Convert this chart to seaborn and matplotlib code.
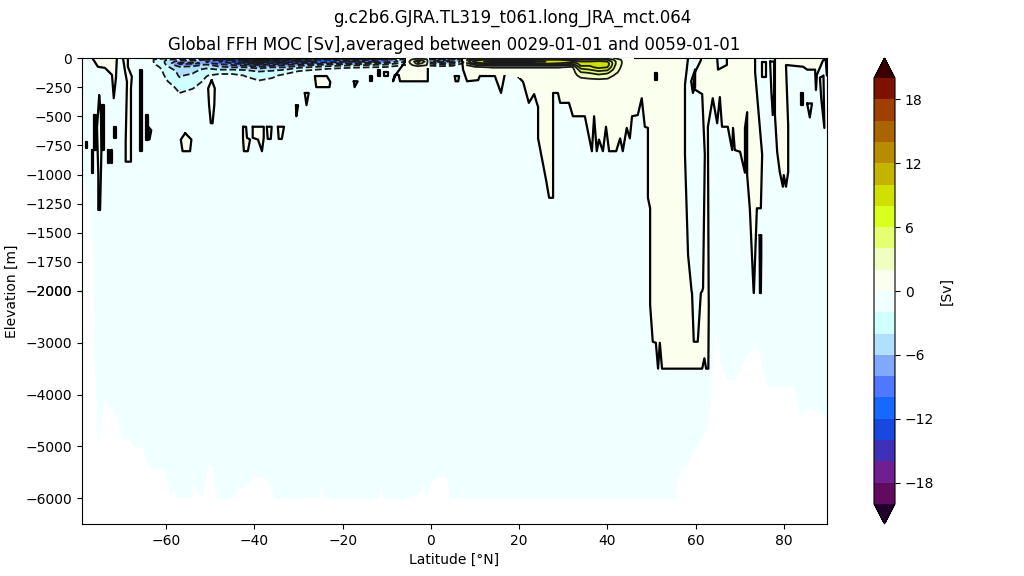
import matplotlib
matplotlib.use('Agg')
import matplotlib.pyplot as plt
from matplotlib.colors import ListedColormap
import numpy as np
import seaborn as sns

# colour bands of the overturning streamfunction, low to high
band_colors = ['#600a60', '#701f90', '#4030b8', '#1848e0', '#1668ff', '#5078ff', '#80a8ff', '#b0e0ff',
               '#d0ffff', '#f0ffff', '#fbffee', '#f0ffc0', '#e6ff70', '#d8ff20', '#d0e000', '#c4b400',
               '#b88c00', '#aa6400', '#a04000', '#7d1200']
under_color = '#20002a'
over_color = '#3a0000'
levels = list(range(-20, 21, 2))
line_levels = [v for v in levels if v != 0]
cbar_ticks = [-18, -12, -6, 0, 6, 12, 18]
POS_FILL = '#fbffee'
NEG_FILL = '#f0ffff'

title_run = 'g.c2b6.GJRA.TL319_t061.long_JRA_mct.064'
title_main = 'Global FFH MOC [Sv],averaged between 0029-01-01 and 0059-01-01'

# ocean floor
floor_lat = [-79.1, -78.0, -76.6, -76.3, -75.5, -74.1, -71.4, -69.8, -69.3, -66.8, -65.5, -63.8, -61.9, -60.1,
             -59.2, -58.4, -57.6, -54.6, -54.0, -51.9, -50.6, -49.4, -48.8, -44.9, -43.8, -41.5, -40.2, -37.8,
             -36.3, -35.6, -25.6, -24.9, -24.3, -14.5, -11.8, -11.5, -10.9, -4.8, -2.7, -1.8, -1.1, 0.2, 2.7,
             3.5, 4.3, 55.1, 55.7, 57.1, 57.8, 59.4, 62.1, 63.3, 64.4, 65.5, 67.1, 68.9, 71.2, 73.7, 76.2,
             82.1, 83.7, 85.3, 89.8]
floor_depth = [-1000, -1176, -1322, -3330, -5000, -4060, -4420, -4920, -4800, -5020, -5000, -5420, -5420, -5500,
               -6000, -5790, -6000, -6000, -5710, -6000, -5365, -5400, -6000, -6000, -5830, -5730, -5560, -5600,
               -5730, -6000, -6000, -5730, -6000, -6000, -6000, -5790, -6000, -6000, -5900, -5670, -6000, -5650,
               -5560, -5600, -6000, -6000, -5650, -5360, -5420, -5100, -4730, -4250, -2710, -3325, -3710, -3710,
               -3270, -3000, -3850, -3830, -4420, -4230, -4420]

# zero contour of the big positive cell
main_cell = [(7.0, 0), (7.3, -100), (8.2, -200), (10.7, -190), (11.1, -155), (14.5, -155), (15.9, -300), (16.8, -130),
             (19.0, -130), (20.9, -205), (22.2, -385), (23.4, -310), (24.3, -420), (24.3, -690), (26.1, -1045),
             (26.8, -1200), (27.7, -1200), (27.7, -300), (28.8, -300), (29.3, -385), (31.3, -385), (32.2, -500),
             (34.9, -500), (36.5, -800), (37.0, -500), (37.6, -800), (38.1, -700), (39.0, -800), (39.7, -590),
             (40.4, -800), (42.0, -800), (42.9, -690), (43.5, -800), (44.4, -600), (45.1, -690), (45.6, -500),
             (46.9, -490), (47.8, -345), (48.5, -590), (49.2, -600), (49.2, -1200), (49.7, -1290), (49.7, -2270),
             (50.3, -2980), (51.0, -3000), (51.5, -3500), (51.9, -3000), (52.4, -3500), (61.5, -3500), (62.0, -3300),
             (62.4, -3500), (62.9, -3500), (63.0, -2270), (62.8, -590), (63.9, -345), (64.9, -560), (65.5, -335),
             (66.0, -590), (67.3, -590), (68.3, -790), (68.5, -600), (68.9, -790), (70.1, -805), (71.2, -985),
             (71.2, -600), (71.7, -465), (71.7, -1005), (72.3, -1290), (73.2, -2040), (73.9, -1290), (74.8, -1290),
             (75.1, -830), (73.5, -120), (73.5, 0)]
channel = [(58.3, 0), (57.6, -230), (57.6, -830), (58.3, -1690), (59.2, -2040), (59.6, -2980), (60.5, -2980),
           (61.2, -2040), (61.7, -1975), (62.1, -830), (61.5, -310), (59.4, -260), (59.9, -120), (61.2, -20), (61.2, 0)]
notch = [(64.9, 0), (65.1, -100), (67.1, -60), (67.1, 0)]
arctic_cell = [(78.0, 0), (78.0, -490), (78.5, -805), (79.1, -980), (79.8, -1105), (80.0, -1005), (80.5, -1105),
               (81.0, -980), (81.0, -580), (80.5, -60), (84.4, -75), (85.3, -100), (87.1, -100), (87.3, -275),
               (87.5, -145), (88.9, -20), (89.6, -10), (89.8, 0)]
equator_cell = [(-5.2, 0), (-8.0, -145), (-8.6, -200), (-8.2, -145), (-7.3, -145), (-7.0, -200), (-0.7, -200), (-0.7, 0)]

# small closed positive patches
patches = [
    [(-76.6, 0), (-76.6, -10), (-75.5, -75), (-73.9, -85), (-72.3, -145), (-71.9, -345), (-71.4, -170), (-71.2, 0)],
    [(-69.8, 0), (-69.4, -100), (-68.9, -205), (-69.2, -720), (-69.2, -890), (-68.0, -890), (-68.0, -260),
     (-67.8, -160), (-68.7, -75), (-68.7, 0)],
    [(-65.9, -100), (-65.6, -100), (-65.6, -800), (-65.9, -800)],
    [(-64.5, -490), (-64.1, -490), (-64.1, -700), (-64.5, -700)],
    [(-64.1, -590), (-63.4, -620), (-63.8, -700)],
    [(-75.2, -320), (-74.8, -490), (-74.7, -800), (-75.0, -1305), (-75.4, -1305), (-75.4, -1000), (-75.7, -600)],
    [(-76.3, -490), (-75.9, -490), (-75.9, -790), (-76.3, -790)],
    [(-74.5, -405), (-74.1, -405), (-74.1, -790), (-74.5, -790)],
    [(-73.3, -790), (-72.9, -790), (-72.9, -900), (-73.3, -900)],
    [(-72.5, -790), (-72.2, -790), (-72.2, -900), (-72.5, -900)],
    [(-71.8, -590), (-71.5, -590), (-71.5, -685), (-71.8, -685)],
    [(-78.2, -720), (-78.0, -720), (-78.0, -770), (-78.2, -770)],
    [(-76.8, -790), (-76.5, -790), (-76.5, -985), (-76.8, -985)],
    [(-49.7, -190), (-49.0, -260), (-49.1, -400), (-49.5, -560), (-49.9, -560), (-50.3, -400), (-50.5, -260)],
    [(-55.7, -645), (-54.3, -700), (-54.6, -800), (-56.3, -800), (-56.7, -700)],
    [(-42.6, -590), (-41.9, -590), (-41.7, -685), (-41.0, -700), (-41.5, -800), (-42.4, -800), (-42.6, -685)],
    [(-40.4, -590), (-37.9, -590), (-37.9, -685), (-38.3, -800), (-39.2, -700), (-40.4, -685)],
    [(-37.2, -590), (-36.1, -590), (-36.3, -695), (-37.0, -695)],
    [(-34.7, -590), (-33.3, -590), (-33.8, -695), (-34.5, -695)],
    [(-30.6, -405), (-30.1, -405), (-30.5, -500)],
    [(-28.6, -300), (-27.7, -300), (-28.2, -405)],
    [(-26.3, -155), (-23.6, -155), (-22.8, -205), (-23.0, -250), (-26.0, -250)],
    [(-17.5, -200), (-16.6, -200), (-17.3, -250)],
    [(-13.7, -155), (-13.4, -155), (-13.4, -200), (-13.7, -200)],
    [(-12.0, -100), (-11.5, -100), (-11.5, -155), (-12.0, -155)],
    [(-10.7, -120), (-9.8, -120), (-9.8, -155), (-10.7, -155)],
    [(5.4, -155), (6.4, -155), (6.2, -200), (5.6, -200)],
    [(50.8, -130), (51.2, -130), (51.2, -190), (50.8, -190)],
    [(59.9, -100), (59.0, -200), (59.4, -300), (59.9, -250)],
    [(75.1, -35), (75.9, -35), (75.9, -165), (75.1, -165)],
    [(76.9, -30), (77.8, -30), (77.8, -300), (77.5, -490), (77.2, -300)],
    [(83.8, -300), (84.4, -300), (84.4, -400), (83.8, -400)],
    [(85.3, -390), (86.4, -390), (85.9, -510)],
    [(88.2, -170), (89.0, -150), (89.2, -600), (88.5, -350)],
    [(89.5, -10), (89.8, -10), (89.8, -150)],
    [(74.5, -1520), (74.9, -1520), (74.9, -1700), (74.8, -2040), (74.6, -2040)],
]

# southern wind driven cell, one row per latitude
neg_depth = [0, -15, -30, -45, -60, -80, -100, -125, -150, -200, -250, -300]
neg_lat = [-64, -62, -60, -57, -54, -51, -48, -45, -42, -39, -36, -33, -30, -26, -22, -18, -14, -10, -6, -2, 2, 5, 7, 8]
neg_psi = [
    [-1, -1, -1, -1, -1, -1, -1, -1, -1, -1, -1, -1],
    [-1, -2.8, -2.8, -2.6, -2.2, -1.5, -1, -1, -1, -1, -1, -1],
    [-1, -4, -4.3, -4.3, -4, -3.5, -3, -2.6, -2.3, -1.8, -1, -1],
    [-1, -5, -7, -8.5, -7.5, -5.5, -4.8, -4.4, -4.2, -3.5, -2.6, -2],
    [-1, -5, -7, -8.5, -7, -5.3, -4.6, -4.2, -3.6, -2.8, -2.2, -1.5],
    [-1, -6, -8, -7.5, -5.5, -4.5, -3.5, -2.5, -2.1, -1.7, -1, -1],
    [-1, -8, -10, -9, -7, -5.5, -4, -2.5, -1.5, -1, -1, -1],
    [-1, -10, -12, -10, -8, -6, -4, -2.5, -1.5, -1, -1, -1],
    [-1, -12, -15, -12, -9, -6, -4.2, -2.8, -2.1, -1.5, -1, -1],
    [-1, -14, -19, -14, -10, -7, -5, -3.5, -2.6, -1.9, -1, -1],
    [-1, -12, -14, -12, -9, -6, -4.5, -3.2, -2.4, -1.5, -1, -1],
    [-1, -12, -14, -11, -8, -6, -4, -2.5, -1.5, -1, -1, -1],
    [-1, -10, -12, -10, -7, -4.5, -2.5, -1.5, -1, -1, -1, -1],
    [-1, -11, -12, -9, -6, -3.5, -2, -1, -1, -1, -1, -1],
    [-1, -10, -11, -8, -5, -2.5, -1.5, -1, -1, -1, -1, -1],
    [-1, -9, -10, -8, -4.5, -2.2, -1.2, -1, -1, -1, -1, -1],
    [-1, -10, -11, -7, -4, -2, -1, -1, -1, -1, -1, -1],
    [-1, -8, -9, -6, -3.5, -1.8, -1, -1, -1, -1, -1, -1],
    [-1, -4, -4, -3, -2, -1, -1, -1, -1, -1, -1, -1],
    [-1, -6, -6, -4, -2.2, -1, -1, -1, -1, -1, -1, -1],
    [-1, -8, -9, -6, -3, -1, -1, -1, -1, -1, -1, -1],
    [-1, -7, -8, -5, -2.5, -1, -1, -1, -1, -1, -1, -1],
    [-1, -3, -3, -2.2, -1, -1, -1, -1, -1, -1, -1, -1],
    [-1, -1, -1, -1, -1, -1, -1, -1, -1, -1, -1, -1],
]

# northern subtropical cell, one row per latitude
pos_depth = [0, -15, -30, -45, -60, -80, -100, -125, -150, -175, -200]
pos_lat = [8, 10, 14, 18, 22, 26, 29, 32, 34, 36, 38, 40, 42, 44, 46]
pos_psi = [
    [1, 3, 5, 3.5, 2, 1, 1, np.nan, np.nan, np.nan, np.nan],
    [1, 7, 9, 7, 4, 1.5, 1, np.nan, np.nan, np.nan, np.nan],
    [1, 9, 11, 9, 5, 2.2, 1, 1, np.nan, np.nan, np.nan],
    [1, 9, 11, 9, 5, 2.2, 1, 1, 1, np.nan, np.nan],
    [1, 9, 11, 9, 5, 2.2, 1, 1, 1, 1, 1],
    [1, 8, 10, 9, 5, 2.2, 1, 1, 1, 1, 1],
    [1, 8, 9, 8, 5, 2.2, 1, 1, 1, 1, 1],
    [1, 7, 9, 7, 4, 1.5, 1, 1, 1, 1, 1],
    [3, 6, 8, 8.7, 8.7, 7, 5.3, 3.8, 2.7, 1.8, 1.1],
    [3, 6, 8, 8.3, 8.3, 7.5, 6, 4.2, 3, 2.1, 1.2],
    [3, 6, 8.5, 9.7, 9.7, 8.5, 7, 5, 3.5, 2.3, 1.2],
    [3, 6, 8, 9, 9, 8, 6.5, 4.5, 3, 2.1, 1.2],
    [1.5, 3.2, 3.8, 3.8, 3.5, 3, 2.6, 2.2, 1.6, 1.1, 1],
    [1, 1, 1, 1, 1, 1, 1, 1, 1, 1, 1],
    [1, 1, 1, 1, 1, 1, 1, 1, 1, 1, 1],
]

# small cell at the equator
eq_depth = [0, -15, -30, -45, -60, -80]
eq_lat = [-5.5, -4, -3, -2, -1, -0.5]
eq_psi = [
    [1, 1, 1, 1, 1, 1],
    [1, 2.5, 3.5, 3, 2.2, 1],
    [1, 3.5, 6.5, 5, 3, 1],
    [1, 3, 5.5, 4, 2.5, 1],
    [1, 2.5, 3, 2.5, 2.1, 1],
    [1, 1, 1, 1, 1, 1],
]

sns.set_theme(style='ticks', rc={
    'axes.edgecolor': 'black', 'axes.labelcolor': 'black', 'text.color': 'black',
    'xtick.color': 'black', 'ytick.color': 'black', 'axes.linewidth': 0.8,
    'xtick.major.size': 3.5, 'ytick.major.size': 3.5, 'xtick.major.width': 0.8, 'ytick.major.width': 0.8,
    'xtick.labelsize': 10, 'ytick.labelsize': 10, 'axes.labelsize': 10,
})
plt.rcParams['font.family'] = ['DejaVu Sans']

cmap = ListedColormap(sns.color_palette(band_colors, n_colors=len(band_colors)))
cmap.set_under(under_color)
cmap.set_over(over_color)

W, H = 1024, 576
LW = 1.6
fig = plt.figure(figsize=(W / 100, H / 100), dpi=100)
ax_top = fig.add_axes([82 / W, (H - 291) / H, 745 / W, 233 / H])
ax_low = fig.add_axes([82 / W, (H - 524) / H, 745 / W, 233 / H])


def outline(ax, shape, fill):
    lat = [p[0] for p in shape]
    dep = [p[1] for p in shape]
    ax.fill(lat, dep, color=fill, lw=0, zorder=2)
    # shapes cut by the surface stay open there
    if dep[0] != 0 or dep[-1] != 0:
        lat = lat + [lat[0]]
        dep = dep + [dep[0]]
    sns.lineplot(x=lat, y=dep, sort=False, estimator=None, errorbar=None, color='black', lw=LW, ax=ax, zorder=2.5)


for ax in (ax_top, ax_low):
    ax.fill_between(floor_lat, floor_depth, 0, color=NEG_FILL, lw=0, zorder=1)
    outline(ax, main_cell, POS_FILL)
    outline(ax, channel, NEG_FILL)
    outline(ax, notch, NEG_FILL)
    outline(ax, arctic_cell, POS_FILL)
    outline(ax, equator_cell, POS_FILL)
    for shape in patches:
        outline(ax, shape, POS_FILL)

cf = None
for lat, dep, psi, z in ((neg_lat, neg_depth, neg_psi, 1.5), (pos_lat, pos_depth, pos_psi, 3), (eq_lat, eq_depth, eq_psi, 3)):
    grid = np.array(psi, dtype=float).T
    c = ax_top.contourf(lat, dep, grid, levels=levels, cmap=cmap, extend='both', zorder=z)
    ax_top.contour(lat, dep, grid, levels=line_levels, colors='k', linewidths=1.3, zorder=z + 0.5)
    if cf is None:
        cf = c

ax_top.set_xlim(-79.1, 89.8)
ax_low.set_xlim(-79.1, 89.8)
ax_top.set_ylim(-2000, 0)
ax_low.set_ylim(-6500, -2000)
ax_top.set_yticks(list(range(-2000, 1, 250)))
ax_low.set_yticks(list(range(-6000, -1999, 1000)))
ax_low.set_xticks(list(range(-60, 81, 20)))
ax_top.set_xticks([])
ax_top.spines['bottom'].set_visible(False)
ax_low.spines['top'].set_visible(False)
ax_low.set_xlabel('Latitude [°N]')
ax_top.set_title(title_main, fontsize=12, pad=6)

fig.text(512 / W, 1 - 18 / H, title_run, ha='center', va='center', fontsize=12)
fig.text(12 / W, 1 - 291 / H, 'Elevation [m]', rotation=90, ha='center', va='center', fontsize=10)

# colorbar axes holds the end triangles as well
cax = fig.add_axes([874 / W, (H - 524) / H, 21 / W, 466 / H])
cbar = fig.colorbar(cf, cax=cax, extend='both', extendfrac=20 / 425, ticks=cbar_ticks)
cbar.minorticks_off()
cbar.set_label('[Sv]', fontsize=10)

fig.savefig('out.png', dpi=100)
plt.close(fig)
